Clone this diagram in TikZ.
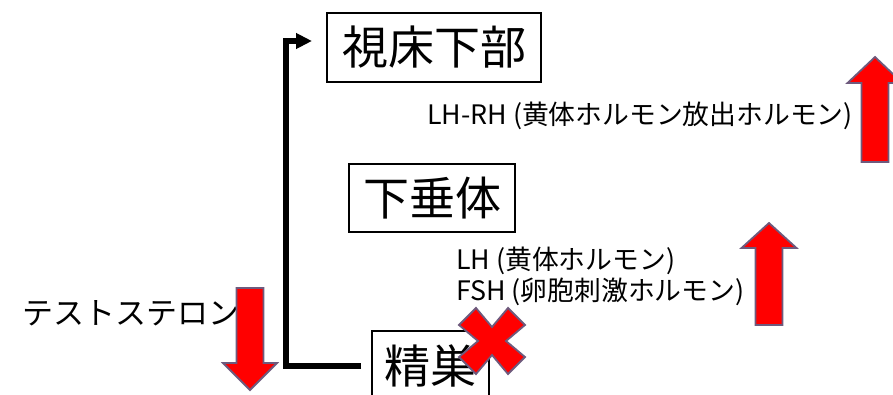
\documentclass[tikz,border=0pt]{standalone}
\usepackage{fontspec}
\setmainfont{Noto Sans CJK JP}
\usetikzlibrary{arrows.meta}
\definecolor{arrowred}{RGB}{255,0,0}
\definecolor{arrowedge}{RGB}{110,90,125}

\begin{document}
\begin{tikzpicture}[x=1pt,y=-1pt,
  organ/.style={draw,line width=2pt,inner sep=0pt,font=\fontsize{46}{46}\selectfont},
  hormone/.style={anchor=west,inner sep=0pt,align=left,font=\fontsize{26.8}{31}\selectfont},
  feedback/.style={line width=5.5pt,-{Triangle[length=16pt,width=15pt]}},
  change/.style={fill=arrowred,draw=arrowedge,line width=1.8pt}]
\useasboundingbox (0,0) rectangle (893,394);
\clip (0,0) rectangle (893,394);
\node[organ,minimum width=214pt,minimum height=69pt] (hypo) at (434,47.5) {視床下部};
\node[organ,minimum width=166pt,minimum height=68pt] (pit) at (432,198) {下垂体};
\node[organ,minimum width=117pt,minimum height=70pt] (testis) at (430.5,366) {精巣};
\node[hormone] (lhrh) at (427,116) {LH-RH (黄体ホルモン放出ホルモン)};
\node[hormone] (lhfsh) at (456,276) {LH (黄体ホルモン)\\FSH (卵胞刺激ホルモン)};
\node[anchor=west,inner sep=0pt,font=\fontsize{31}{31}\selectfont] (testo) at (22,313) {テストステロン};
% feedback loop
\coordinate (spine) at (286,0);
\draw[feedback,shorten <=10pt,shorten >=14pt] (testis.west) -- (testis.west -| spine) |- ([yshift=6.5pt]hypo.west);
% up and down arrows
\draw[change] (250,390) -- (277,363) -- (263.5,363) -- (263.5,288) -- (236.5,288) -- (236.5,363) -- (223,363) -- cycle;
\draw[change] (769,223) -- (796.5,248) -- (782.5,248) -- (782.5,325) -- (755.5,325) -- (755.5,248) -- (741.5,248) -- cycle;
\draw[change] (875,57) -- (902.5,83) -- (888.5,83) -- (888.5,162) -- (861.5,162) -- (861.5,83) -- (847.5,83) -- cycle;
% blocked
\draw[change,shift={(492,341)}] (-16,-33) -- (0,-14) -- (16,-33) -- (33,-16) -- (14,0) -- (33,16) -- (16,33) -- (0,14) -- (-16,33) -- (-33,16) -- (-14,0) -- (-33,-16) -- cycle;
\end{tikzpicture}
\end{document}
